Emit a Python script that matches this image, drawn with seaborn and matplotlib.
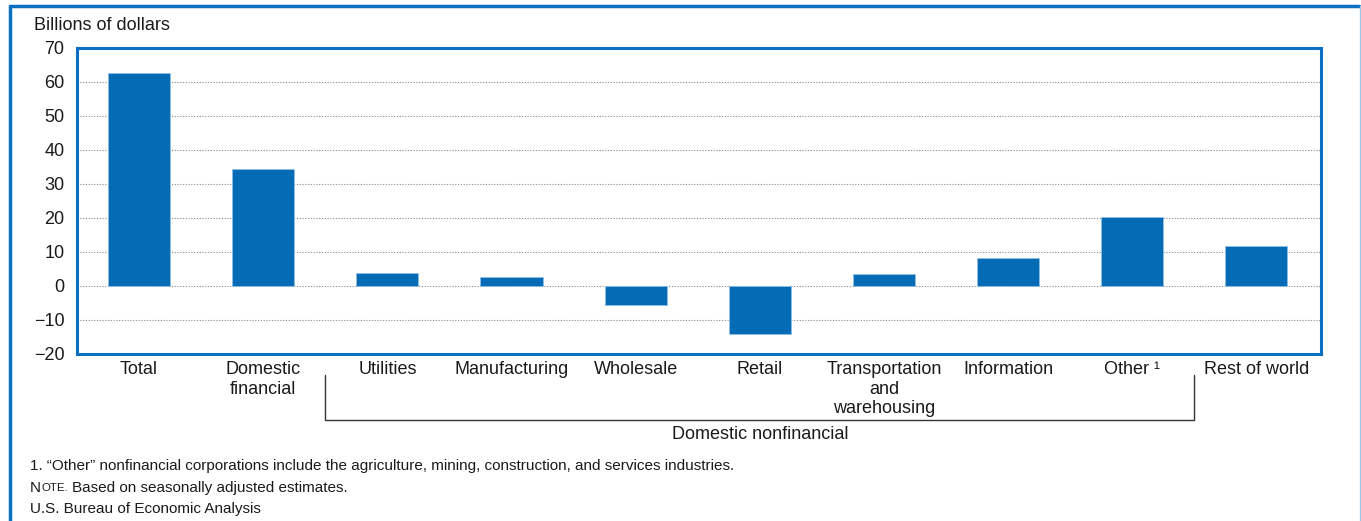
import pandas as pd
import matplotlib.pyplot as plt
import seaborn as sns
from matplotlib.lines import Line2D

# Values (billions of dollars)
categories = ["Total", "Domestic\nfinancial", "Utilities", "Manufacturing", "Wholesale",
              "Retail", "Transportation\nand\nwarehousing", "Information", "Other \u00b9",
              "Rest of world"]
values = [62.7, 34.4, 3.8, 2.6, -5.5, -14.2, 3.4, 8.2, 20.4, 11.7]
yticks = [-20, -10, 0, 10, 20, 30, 40, 50, 60, 70]

footnote = "1. \u201cOther\u201d nonfinancial corporations include the agriculture, mining, construction, and services industries."
note_text = "Based on seasonally adjusted estimates."
source = "U.S. Bureau of Economic Analysis"

blue = "#066bb5"
frame_blue = "#0b70c2"

sns.set_style("white")
plt.rcParams['font.family'] = ['Liberation Sans', 'DejaVu Sans']

df = pd.DataFrame({"category": categories, "value": values})

W, H = 1361, 521
fig = plt.figure(figsize=(W / 100, H / 100), dpi=100)
ax = fig.add_axes([77 / W, 1 - 354 / H, (1321 - 77) / W, (354 - 48) / H])

sns.barplot(data=df, x="category", y="value", color=blue, saturation=1,
            width=0.5, edgecolor="#8fc0e6", linewidth=0.6, ax=ax, zorder=3)

ax.set_xlim(-0.5, 9.52)
ax.set_ylim(-20, 69.3)
ax.set_yticks(yticks)
ax.set_yticklabels(["\u221220" if v == -20 else ("\u221210" if v == -10 else str(v)) for v in yticks])
ax.set_xlabel("")
ax.set_ylabel("")
ax.tick_params(axis="both", length=0, labelsize=13, colors="#1a1a1a")
ax.tick_params(axis="x", pad=5)
ax.tick_params(axis="y", pad=9)
for lbl in ax.get_xticklabels():
    lbl.set_linespacing(1.2)
    lbl.set_va("top")

for v in yticks[1:-1]:
    ax.axhline(v, color="#8a8a8a", linestyle=(0, (1, 1.5)), linewidth=0.8, zorder=1)

for s in ax.spines.values():
    s.set_color(frame_blue)
    s.set_linewidth(2.2)

fig.text(34 / W, 1 - 25 / H, "Billions of dollars", fontsize=13,
         ha="left", va="center", color="#1a1a1a")

# Bracket under the domestic nonfinancial industries
tr = ax.get_xaxis_transform()
y_top = -(375 - 354) / (354 - 48)
y_bot = -(420 - 354) / (354 - 48)
ax.add_line(Line2D([1.5, 1.5, 8.5, 8.5], [y_top, y_bot, y_bot, y_top], transform=tr,
                   color="#333333", linewidth=1.0, clip_on=False))
ax.text(5.0, y_bot - 0.02, "Domestic nonfinancial", transform=tr, ha="center", va="top",
        fontsize=13, color="#1a1a1a")

# Outer frame
fig.add_artist(Line2D([10 / W, 10 / W], [0, 1 - 6 / H], color=frame_blue, linewidth=2.5))
fig.add_artist(Line2D([10 / W, 1359 / W], [1 - 6 / H, 1 - 6 / H], color=frame_blue, linewidth=2.5))
fig.add_artist(Line2D([1359.5 / W, 1359.5 / W], [0, 1 - 6 / H], color="#9cc8e8", linewidth=1.0))

# Footnotes
fs = 11
fig.text(30 / W, 1 - 466 / H, footnote, fontsize=fs, va="center", ha="left", color="#1a1a1a")
t_n = fig.text(30 / W, 1 - 488 / H, "N", fontsize=fs, va="center", ha="left", color="#1a1a1a")
fig.canvas.draw()
bb = t_n.get_window_extent()
t_ote = fig.text(bb.x1 / W, 1 - 488 / H, "OTE.", fontsize=fs * 0.75, va="center", ha="left",
                 color="#1a1a1a")
fig.canvas.draw()
bb2 = t_ote.get_window_extent()
fig.text((bb2.x1 + 4) / W, 1 - 488 / H, note_text, fontsize=fs, va="center", ha="left", color="#1a1a1a")
fig.text(30 / W, 1 - 509 / H, source, fontsize=fs, va="center", ha="left", color="#1a1a1a")

fig.savefig("out.png", dpi=100)
